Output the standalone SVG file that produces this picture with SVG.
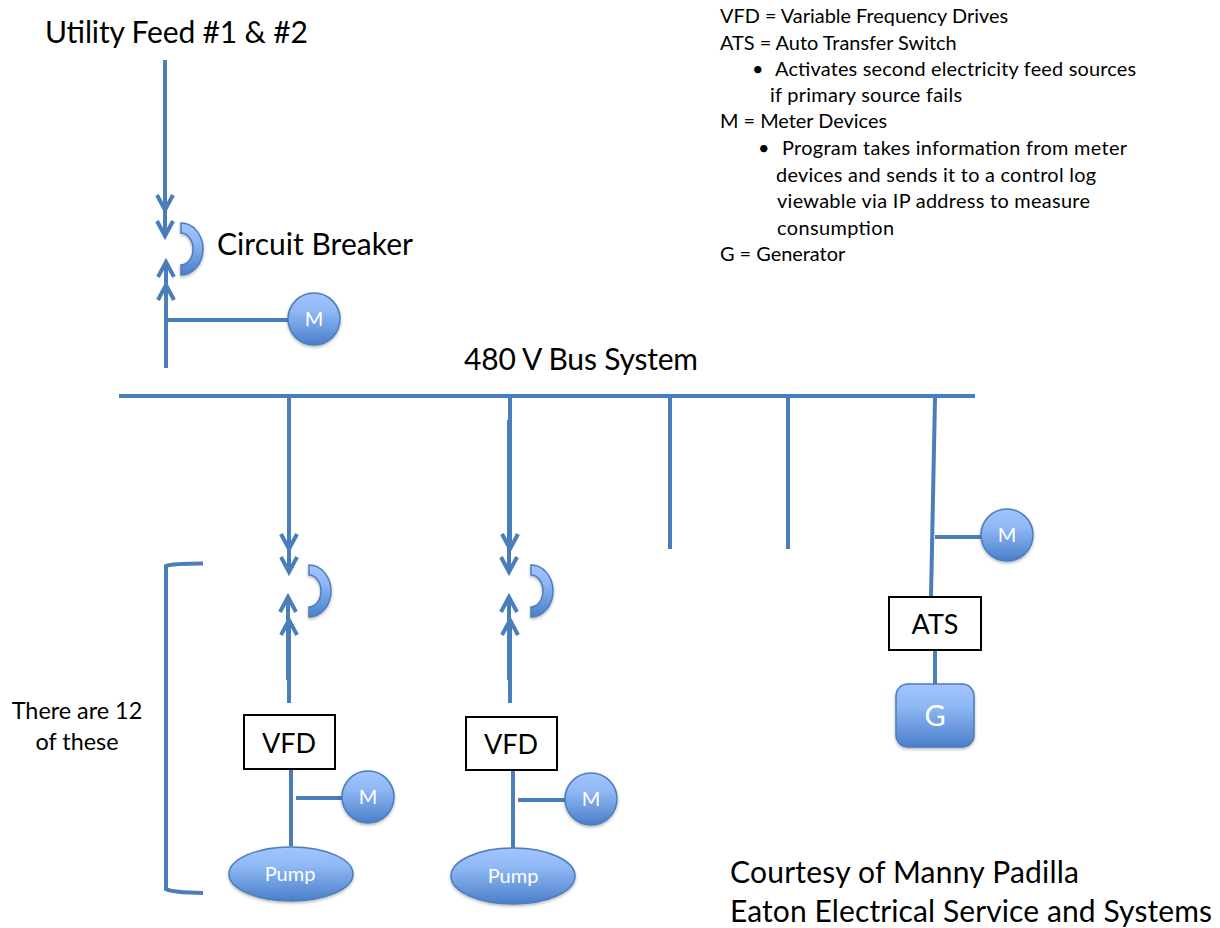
<svg xmlns="http://www.w3.org/2000/svg" width="1220" height="928" viewBox="0 0 1220 928">
<style>
text{font-family:"Lato","Open Sans","Liberation Sans",sans-serif;fill:#000}
.l{font-size:30px}
.k{font-size:19.9px}
.t{font-size:23.4px;text-anchor:middle}
.w{fill:#fff;text-anchor:middle;font-size:20px}
.b{font-size:27px;text-anchor:middle}
.c{fill:none;stroke:#4a7ebb;stroke-width:4}
.a{marker-end:url(#ch)}
.n{fill:url(#g);stroke:#4a7ebb;stroke-width:1.5;filter:url(#s)}
.r{fill:#fff;stroke:#000;stroke-width:2}
</style>
<defs>
<linearGradient id="g" x1="0" y1="0" x2="0" y2="1"><stop offset="0" stop-color="#a3c4ff"/><stop offset=".35" stop-color="#8fb8f5"/><stop offset="1" stop-color="#4a7fc9"/></linearGradient>
<filter id="s" x="-20%" y="-20%" width="140%" height="140%"><feDropShadow dx="0" dy="1.5" stdDeviation="1.5" flood-color="#000" flood-opacity=".3"/></filter>
<marker id="ch" markerUnits="userSpaceOnUse" markerWidth="22" markerHeight="22" viewBox="0 0 22 22" refX="17" refY="11" orient="auto"><path d="M2,3 L17,11 L2,19" fill="none" stroke="#4a7ebb" stroke-width="4"/></marker>
<path id="brk" d="M0,0 A22,26 0 0 1 0,52 L0,42 A12,16 0 0 0 0,10 Z"/>
</defs>
<g id="connectors">
<path class="c a" d="M165,60V210"/><path class="c a" d="M165,85V236"/>
<path class="c a" d="M166,368V285"/><path class="c a" d="M166,345V262"/>
<path class="c" d="M166,320H290"/>
<path class="c" d="M119,396H975"/>
<path class="c a" d="M289,396V549"/><path class="c a" d="M289,420V572"/>
<path class="c a" d="M289,703V620"/><path class="c a" d="M288,680V597"/>
<path class="c" d="M291,768V846"/><path class="c" d="M296,798H344"/>
<path class="c a" d="M510,396V549"/><path class="c a" d="M509,420V572"/>
<path class="c a" d="M510,703V620"/><path class="c a" d="M509,680V597"/>
<path class="c" d="M513,768V848"/><path class="c" d="M518,800H566"/>
<path class="c" d="M670,396V549"/><path class="c" d="M788,396V549"/>
<path class="c" d="M935,398L931,597"/><path class="c" d="M935,537H984"/>
<path class="c" d="M935,650V685"/>
<path class="c" d="M203,563.5Q172,563.5 166,566V889Q172,892.5 203,893"/>
</g>
<g id="breaker1"><use href="#brk" x="181" y="223" class="n"/></g>
<g id="breaker2"><use href="#brk" x="309" y="565" class="n"/></g>
<g id="breaker3"><use href="#brk" x="531" y="565" class="n"/></g>
<g id="meter1"><circle cx="314" cy="319" r="26" class="n"/><text x="314" y="326" class="w">M</text></g>
<g id="meter2"><circle cx="368" cy="797" r="26" class="n"/><text x="368" y="804" class="w">M</text></g>
<g id="meter3"><circle cx="591" cy="799" r="26" class="n"/><text x="591" y="806" class="w">M</text></g>
<g id="meter4"><circle cx="1007" cy="535" r="26" class="n"/><text x="1007" y="542" class="w">M</text></g>
<g id="vfd1"><rect x="244" y="715" width="91" height="54" class="r"/><text x="289" y="753" class="b">VFD</text></g>
<g id="vfd2"><rect x="466" y="717" width="91" height="53" class="r"/><text x="511" y="754" class="b">VFD</text></g>
<g id="ats"><rect x="889" y="597" width="92" height="53" class="r"/><text x="935" y="634" class="b">ATS</text></g>
<g id="pump1"><ellipse cx="291" cy="874" rx="62" ry="27" class="n"/><text x="290" y="881" class="w">Pump</text></g>
<g id="pump2"><ellipse cx="513" cy="876" rx="62" ry="28" class="n"/><text x="513" y="883" class="w">Pump</text></g>
<g id="generator"><rect x="896" y="684" width="78" height="63" rx="12" class="n"/><text x="935" y="726" class="w" style="font-size:29px">G</text></g>
<g id="labels">
<text x="45" y="43" class="l" textLength="263">Utility Feed #1 &amp; #2</text>
<text x="217" y="255" class="l" textLength="196">Circuit Breaker</text>
<text x="464" y="370" class="l" textLength="234">480 V Bus System</text>
<text x="77" y="719" class="t">There are 12</text>
<text x="77" y="750" class="t">of these</text>
<text x="730" y="883" class="l" textLength="349">Courtesy of Manny Padilla</text>
<text x="730" y="922" class="l" textLength="482">Eaton Electrical Service and Systems</text>
<text x="720" y="23" class="k">VFD = Variable Frequency Drives</text>
<text x="720" y="50" class="k">ATS = Auto Transfer Switch</text>
<text x="752" y="76" class="k">•</text><text x="775" y="76" class="k" textLength="361">Activates second electricity feed sources</text>
<text x="770" y="102" class="k" textLength="192">if primary source fails</text>
<text x="720" y="128" class="k">M = Meter Devices</text>
<text x="758" y="155" class="k">•</text><text x="782" y="155" class="k" textLength="345">Program takes information from meter</text>
<text x="776" y="182" class="k" textLength="320">devices and sends it to a control log</text>
<text x="777" y="208" class="k" textLength="313">viewable via IP address to measure</text>
<text x="777" y="235" class="k" textLength="117">consumption</text>
<text x="720" y="261" class="k">G = Generator</text>
</g>
</svg>
